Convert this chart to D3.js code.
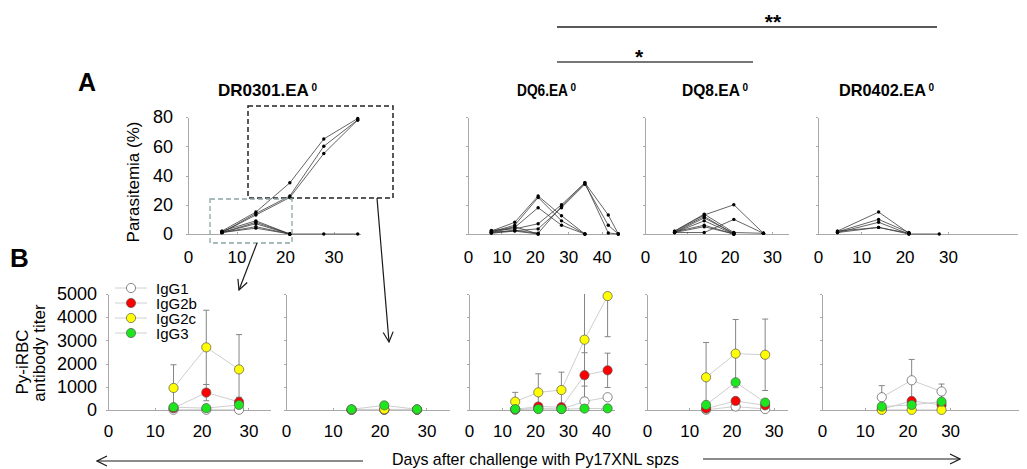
<!DOCTYPE html>
<meta charset="utf-8">
<style>
body { margin: 0; background: #fff; }
svg { font-family: Arial, "Liberation Sans", sans-serif; }
.axis path, .axis line { stroke: #a8a8a8; shape-rendering: crispEdges; }
.axis text { fill: #000; font-family: Arial, "Liberation Sans", sans-serif; }
.title { font-weight: bold; font-size: 16px; }
.mouse { fill: none; stroke: #3c3c3c; stroke-width: 0.8; }
.trend { fill: none; stroke: #cfcfcf; stroke-width: 1; }
.err { stroke: #858585; stroke-width: 1; }
.dot { stroke: #555; stroke-width: 0.7; }
.arrow { stroke: #1a1a1a; stroke-width: 1.2; fill: none; }
</style>
<svg width="1027" height="469"></svg>
<script src="https://d3js.org/d3.v7.min.js"></script>
<script>

var isotypes = ["IgG1", "IgG2b", "IgG2c", "IgG3"];
var isoColors = ["#ffffff", "#ff0000", "#ffff00", "#1ee61e"];

// A: parasitemia (%) per mouse, one row per mouse, values by day
var daysDR0301 = [7, 14, 21, 28, 35];
var paraDR0301 = [
  [2, 15, 35, 65, 79],
  [1, 14, 26, 60, 78],
  [1, 13, 25, 55, 78],
  [2, 9, 0],
  [1, 8, 0],
  [1, 7, 0],
  [1, 5, 0],
  [1, 4, 0, 0, 0]
];

var daysDQ6 = [7, 14, 21, 28, 35, 42, 45];
var paraDQ6 = [
  [2, 8, 26, 12.5, 0],
  [1.5, 6, 25, 9, 0],
  [1, 4.5, 18, 6, 0],
  [2.5, 3.5, 7, 20, 35, 13, 0],
  [1, 2.3, 3.5, 18, 34, 6, 0],
  [1, 2.5, 0.5, 19, 35, 0.7, 0],
  [1.5, 5, 0],
  [0.5, 2, 0]
];

var daysDQ8 = [7, 14, 21, 28];
var paraDQ8 = [
  [2, 13, 20, 0.5],
  [2, 13.6, 1, 0.5],
  [1.5, 12, 0],
  [1, 11, 0.5],
  [1, 9, 0],
  [1.5, 6, 0],
  [1, 5, 0],
  [1, 1, 10, 0.5]
];

var daysDR0402 = [4.5, 14, 21, 28];
var paraDR0402 = [
  [2, 15, 0.5],
  [1.5, 10, 1],
  [1, 8, 0],
  [1, 4.5, 0, 0],
  [2, 4.5, 0.5]
];

// B: Py-iRBC antibody titer, mean and sd, rows follow isotypes
var tDaysDR0301lo = [14, 21, 28];
var meanDR0301lo = [[10, 10, 10], [80, 750, 350], [950, 2700, 1750], [120, 80, 220]];
var sdDR0301lo = [[0, 0, 0], [0, 350, 200], [1000, 1600, 1500], [0, 0, 0]];

var tDaysDR0301hi = [14, 21, 28];
var meanDR0301hi = [[10, 10, 10], [10, 10, 10], [20, 30, 20], [30, 200, 30]];
var sdDR0301hi = [[0, 0, 0], [0, 0, 0], [0, 0, 0], [0, 0, 0]];

var tDaysDQ6 = [14, 21, 28, 35, 42];
var meanDQ6 = [[10, 60, 40, 370, 550], [30, 150, 120, 1500, 1710], [360, 760, 860, 3030, 4910], [40, 40, 40, 60, 70]];
var sdDQ6 = [[0, 0, 0, 0, 0], [0, 100, 80, 970, 740], [400, 800, 770, 2000, 1750], [0, 0, 0, 0, 0]];

var tDaysDQ8 = [14, 21, 28];
var meanDQ8 = [[10, 150, 40], [60, 390, 200], [1410, 2430, 2380], [220, 1195, 320]];
var sdDQ8 = [[0, 0, 0], [0, 0, 0], [1500, 1470, 1540], [0, 0, 0]];

var tDaysDR0402 = [14, 21, 28];
var meanDR0402 = [[550, 1280, 800], [30, 390, 220], [5, 5, 5], [150, 220, 360]];
var sdDR0402 = [[500, 900, 320], [0, 0, 0], [0, 0, 0], [0, 0, 0]];

var strains = ["DR0301.EA", "DQ6.EA", "DQ8.EA", "DR0402.EA"];
var paraTicks = [0, 20, 40, 60, 80];
var titerTicks = [0, 1000, 2000, 3000, 4000, 5000];
var dayTicks30 = [0, 10, 20, 30];
var dayTicks40 = [0, 10, 20, 30, 40];

var svg = d3.select("svg");

var defs = svg.append("defs");
defs.append("marker")
    .attr("id", "head")
    .attr("viewBox", "0 0 12 12")
    .attr("refX", 11).attr("refY", 6)
    .attr("markerWidth", 12).attr("markerHeight", 12)
    .attr("markerUnits", "userSpaceOnUse")
    .attr("orient", "auto")
  .append("path")
    .attr("d", "M1,1 L11,6 L1,11")
    .attr("fill", "none")
    .attr("stroke", "#1a1a1a")
    .attr("stroke-width", 1.2);

var yA = d3.scaleLinear().domain([0, 80]).range([234, 117]);
var yB = d3.scaleLinear().domain([0, 5000]).range([410, 294]);

var topPanels = [
  {days: daysDR0301, mice: paraDR0301, left: 188, perDay: 4.85, maxDay: 35.5, ticks: dayTicks30, labels: true},
  {days: daysDQ6, mice: paraDQ6, left: 468, perDay: 3.34, maxDay: 45.5, ticks: dayTicks40},
  {days: daysDQ8, mice: paraDQ8, left: 645, perDay: 4.23, maxDay: 34, ticks: dayTicks30},
  {days: daysDR0402, mice: paraDR0402, left: 818, perDay: 4.33, maxDay: 46, ticks: dayTicks30}
];

var botPanels = [
  {days: tDaysDR0301lo, mean: meanDR0301lo, sd: sdDR0301lo, left: 108, perDay: 4.68, maxDay: 34.8, ticks: dayTicks30, labels: true},
  {days: tDaysDR0301hi, mean: meanDR0301hi, sd: sdDR0301hi, left: 286, perDay: 4.68, maxDay: 35, ticks: dayTicks30},
  {days: tDaysDQ6, mean: meanDQ6, sd: sdDQ6, left: 469, perDay: 3.3, maxDay: 44, ticks: dayTicks40},
  {days: tDaysDQ8, mean: meanDQ8, sd: sdDQ8, left: 647, perDay: 4.22, maxDay: 33.3, ticks: dayTicks30},
  {days: tDaysDR0402, mean: meanDR0402, sd: sdDR0402, left: 822, perDay: 4.27, maxDay: 46, ticks: dayTicks30}
];

// ---- panel A ----
topPanels.forEach(function(p) {
  var x = d3.scaleLinear().domain([0, p.maxDay]).range([p.left, p.left + p.perDay * p.maxDay]);
  var g = svg.append("g");

  g.append("g")
      .attr("class", "axis")
      .attr("transform", "translate(0," + yA(0) + ")")
      .call(d3.axisBottom(x).tickValues(p.ticks).tickSize(-2).tickSizeOuter(0).tickPadding(17))
      .selectAll("text").style("font-size", "17px");

  g.append("g")
      .attr("class", "axis")
      .attr("transform", "translate(" + x(0) + ",0)")
      .call(d3.axisLeft(yA).tickValues(paraTicks).tickSize(2).tickSizeOuter(0).tickPadding(13)
        .tickFormat(p.labels ? d3.format("d") : ""))
      .selectAll("text").style("font-size", "18px");

  var line = d3.line()
      .x(function(d, i) { return x(p.days[i]); })
      .y(function(d) { return yA(d); });

  g.selectAll(".mouse").data(p.mice).enter().append("path")
      .attr("class", "mouse")
      .attr("d", line);

  p.mice.forEach(function(m) {
    g.selectAll(null).data(m).enter().append("circle")
        .attr("cx", function(d, i) { return x(p.days[i]); })
        .attr("cy", function(d) { return yA(d); })
        .attr("r", 1.7)
        .attr("fill", "#000");
  });
});

// ---- panel B ----
botPanels.forEach(function(p) {
  var x = d3.scaleLinear().domain([0, p.maxDay]).range([p.left, p.left + p.perDay * p.maxDay]);
  var g = svg.append("g");

  g.append("g")
      .attr("class", "axis")
      .attr("transform", "translate(0," + yB(0) + ")")
      .call(d3.axisBottom(x).tickValues(p.ticks).tickSize(-2).tickSizeOuter(0).tickPadding(15))
      .selectAll("text").style("font-size", "17px");

  g.append("g")
      .attr("class", "axis")
      .attr("transform", "translate(" + x(0) + ",0)")
      .call(d3.axisLeft(yB).tickValues(titerTicks).tickSize(2).tickSizeOuter(0).tickPadding(9)
        .tickFormat(p.labels ? d3.format("d") : ""))
      .selectAll("text").style("font-size", "18px");

  var line = d3.line()
      .x(function(d, i) { return x(p.days[i]); })
      .y(function(d) { return yB(d); });

  g.selectAll(".trend").data(p.mean).enter().append("path")
      .attr("class", "trend")
      .attr("d", line);

  p.mean.forEach(function(series, k) {
    series.forEach(function(m, i) {
      var s = p.sd[k][i];
      if (!s) return;
      var lo = Math.max(0, m - s), hi = Math.min(5000, m + s), cx = x(p.days[i]);
      g.append("line").attr("class", "err")
          .attr("x1", cx).attr("x2", cx).attr("y1", yB(lo)).attr("y2", yB(hi));
      if (m + s <= 5000)
        g.append("line").attr("class", "err")
            .attr("x1", cx - 3).attr("x2", cx + 3).attr("y1", yB(hi)).attr("y2", yB(hi));
      if (m - s > 0)
        g.append("line").attr("class", "err")
            .attr("x1", cx - 3).attr("x2", cx + 3).attr("y1", yB(lo)).attr("y2", yB(lo));
    });
  });

  p.mean.forEach(function(series, k) {
    g.selectAll(null).data(series).enter().append("circle")
        .attr("class", "dot")
        .attr("cx", function(d, i) { return x(p.days[i]); })
        .attr("cy", function(d) { return yB(d); })
        .attr("r", 4.6)
        .attr("fill", isoColors[k]);
  });
});

// legend
var legend = svg.append("g").selectAll("g")
    .data(isotypes).enter().append("g")
    .attr("transform", function(d, i) { return "translate(0," + (288 + i * 15) + ")"; });
legend.append("line")
    .attr("x1", 115).attr("x2", 147)
    .attr("stroke", "#d0d0d0");
legend.append("circle")
    .attr("class", "dot")
    .attr("cx", 131).attr("r", 4.6)
    .attr("fill", function(d, i) { return isoColors[i]; });
legend.append("text")
    .attr("x", 156).attr("y", 5.5)
    .style("font-size", "15px")
    .text(function(d) { return d; });

// titles (horizontally scaled to the width they take in the figure)
var titlePos = [[218, 91], [517, 51], [682, 58], [839, 87]];
strains.forEach(function(s, i) {
  var tg = svg.append("g");
  var t = tg.append("text")
      .attr("class", "title")
      .text(s);
  var w = t.node().getComputedTextLength();
  tg.attr("transform", "translate(" + titlePos[i][0] + ",96) scale(" + (titlePos[i][1] / w) + ",1)");
  svg.append("text")
      .attr("x", titlePos[i][0] + titlePos[i][1] + 2.5).attr("y", 91)
      .style("font-size", "10px").style("font-weight", "bold")
      .text("0");
});

// panel letters
svg.append("text").attr("x", 78).attr("y", 91)
    .style("font-size", "25px").style("font-weight", "bold").text("A");
svg.append("text").attr("x", 10).attr("y", 267)
    .style("font-size", "26px").style("font-weight", "bold").text("B");

// axis titles
svg.append("text")
    .attr("transform", "translate(139,182) rotate(-90)")
    .attr("text-anchor", "middle")
    .style("font-size", "17px")
    .text("Parasitemia (%)");
svg.append("text")
    .attr("transform", "translate(28,362) rotate(-90)")
    .attr("text-anchor", "middle")
    .style("font-size", "17px")
    .text("Py-iRBC");
svg.append("text")
    .attr("transform", "translate(45,353) rotate(-90)")
    .attr("text-anchor", "middle")
    .style("font-size", "17px")
    .text("antibody titer");

svg.append("text")
    .attr("x", 392).attr("y", 465)
    .attr("textLength", 287)
    .attr("lengthAdjust", "spacingAndGlyphs")
    .style("font-size", "17px")
    .text("Days after challenge with Py17XNL spzs");

// significance bars
svg.append("line").attr("x1", 557).attr("x2", 937).attr("y1", 27).attr("y2", 27)
    .attr("stroke", "#222").attr("stroke-width", 1.5);
svg.append("line").attr("x1", 557).attr("x2", 753).attr("y1", 62).attr("y2", 62)
    .attr("stroke", "#777").attr("stroke-width", 2);
svg.append("text").attr("x", 773).attr("y", 29).attr("text-anchor", "middle")
    .style("font-size", "21px").style("font-weight", "bold").text("**");
svg.append("text").attr("x", 639).attr("y", 64).attr("text-anchor", "middle")
    .style("font-size", "21px").style("font-weight", "bold").text("*");

// zoom boxes and arrows
svg.append("rect")
    .attr("x", 248).attr("y", 106).attr("width", 145).attr("height", 92)
    .attr("fill", "none").attr("stroke", "#222").attr("stroke-width", 1.5)
    .attr("stroke-dasharray", "5,3");
svg.append("rect")
    .attr("x", 210).attr("y", 199).attr("width", 82).attr("height", 44)
    .attr("fill", "none").attr("stroke", "#8aa5a5").attr("stroke-width", 1.3)
    .attr("stroke-dasharray", "5,3");

function arrow(x1, y1, x2, y2) {
  svg.append("line").attr("class", "arrow")
      .attr("x1", x1).attr("y1", y1).attr("x2", x2).attr("y2", y2)
      .attr("marker-end", "url(#head)");
}
arrow(257, 243, 239, 290);
arrow(377, 198, 389, 342);
arrow(363, 461, 97, 461);
arrow(703, 459, 960, 459);

</script>
